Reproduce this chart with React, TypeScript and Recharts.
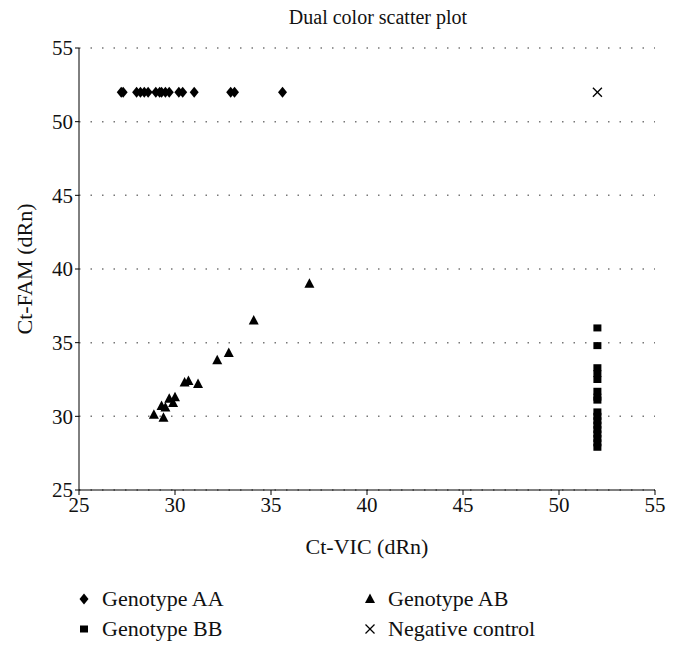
import React from "react";
import {
  CartesianGrid,
  Legend,
  Scatter,
  ScatterChart,
  XAxis,
  YAxis,
} from "recharts";

const FONT = "'Liberation Serif', 'DejaVu Serif', serif";

// Ct-VIC (x) and Ct-FAM (y) values for each genotype
const aaVic = [27.2, 27.3, 28.0, 28.2, 28.4, 28.6, 29.0, 29.2, 29.3, 29.5, 29.7, 30.2, 30.4, 31.0, 32.9, 33.1, 35.6];
const aaFam = [52, 52, 52, 52, 52, 52, 52, 52, 52, 52, 52, 52, 52, 52, 52, 52, 52];

const abVic = [37.0, 34.1, 32.8, 32.2, 30.7, 30.5, 31.2, 30.0, 29.7, 29.9, 29.3, 29.5, 28.9, 29.4];
const abFam = [39.0, 36.5, 34.3, 33.8, 32.4, 32.3, 32.2, 31.3, 31.2, 30.9, 30.7, 30.6, 30.1, 29.9];

const bbVic = [52, 52, 52, 52, 52, 52, 52, 52, 52, 52, 52, 52, 52, 52, 52, 52, 52];
const bbFam = [36.0, 34.8, 33.3, 32.9, 32.5, 31.7, 31.3, 31.1, 30.3, 30.0, 29.7, 29.4, 29.1, 28.8, 28.5, 28.2, 27.9];

const negVic = [52];
const negFam = [52];

const ticks = [25, 30, 35, 40, 45, 50, 55];

const toPoints = (xs: number[], ys: number[]) =>
  xs.map((x, i) => ({ x, y: ys[i] }));

const Diamond = ({ cx, cy }: any) => (
  <polygon
    points={`${cx},${cy - 5.5} ${cx + 4.5},${cy} ${cx},${cy + 5.5} ${cx - 4.5},${cy}`}
    fill="#000"
  />
);

const Triangle = ({ cx, cy }: any) => (
  <polygon
    points={`${cx},${cy - 5.5} ${cx + 5},${cy + 4} ${cx - 5},${cy + 4}`}
    fill="#000"
  />
);

const Square = ({ cx, cy }: any) => (
  <rect x={cx - 4} y={cy - 3.5} width={8} height={7} fill="#000" />
);

const Cross = ({ cx, cy }: any) => (
  <g stroke="#000" strokeWidth={1.3}>
    <line x1={cx - 4.5} y1={cy - 4.5} x2={cx + 4.5} y2={cy + 4.5} />
    <line x1={cx - 4.5} y1={cy + 4.5} x2={cx + 4.5} y2={cy - 4.5} />
  </g>
);

const legendItems = [
  { name: "Genotype AA", Shape: Diamond },
  { name: "Genotype AB", Shape: Triangle },
  { name: "Genotype BB", Shape: Square },
  { name: "Negative control", Shape: Cross },
];

const renderLegend = () => (
  <div
    style={{
      display: "grid",
      gridTemplateColumns: "286px 270px",
      rowGap: 4,
      fontFamily: FONT,
      fontSize: 22,
      color: "#111",
    }}
  >
    {legendItems.map(({ name, Shape }) => (
      <div key={name} style={{ display: "flex", alignItems: "center" }}>
        <svg width={12} height={12} style={{ marginRight: 12 }}>
          <Shape cx={6} cy={6} />
        </svg>
        <span>{name}</span>
      </div>
    ))}
  </div>
);

export default function App() {
  return (
    <div
      style={{
        position: "absolute",
        left: 0,
        top: 0,
        width: 674,
        height: 650,
        background: "#fff",
      }}
    >
      <div
        style={{
          position: "absolute",
          top: 6,
          left: 0,
          width: 756,
          textAlign: "center",
          fontFamily: FONT,
          fontSize: 20,
          color: "#111",
        }}
      >
        Dual color scatter plot
      </div>
      <ScatterChart
        width={674}
        height={650}
        margin={{ top: 48, right: 19, bottom: 90, left: 0 }}
      >
        <CartesianGrid
          vertical={false}
          stroke="#777"
          strokeDasharray="1.5 10"
          strokeWidth={1.5}
        />
        <XAxis
          type="number"
          dataKey="x"
          domain={[25, 55]}
          ticks={ticks}
          interval={0}
          height={70}
          stroke="#000"
          tickSize={5}
          tick={{ fill: "#111", fontFamily: FONT, fontSize: 21 }}
          label={{
            value: "Ct-VIC (dRn)",
            position: "insideBottom",
            offset: 6,
            style: { fill: "#111", fontFamily: FONT, fontSize: 22 },
          }}
        />
        <YAxis
          type="number"
          dataKey="y"
          domain={[25, 55]}
          ticks={ticks}
          interval={0}
          width={79}
          stroke="#000"
          tickSize={4}
          tick={{ fill: "#111", fontFamily: FONT, fontSize: 21 }}
          label={{
            value: "Ct-FAM (dRn)",
            angle: -90,
            position: "insideLeft",
            offset: 24,
            style: {
              fill: "#111",
              fontFamily: FONT,
              fontSize: 22,
              textAnchor: "middle",
            },
          }}
        />
        <Legend
          layout="horizontal"
          verticalAlign="middle"
          content={renderLegend}
          wrapperStyle={{ top: 586, left: 78, width: 570 }}
        />
        <Scatter
          name="Genotype AA"
          data={toPoints(aaVic, aaFam)}
          shape={Diamond}
          isAnimationActive={false}
        />
        <Scatter
          name="Genotype AB"
          data={toPoints(abVic, abFam)}
          shape={Triangle}
          isAnimationActive={false}
        />
        <Scatter
          name="Genotype BB"
          data={toPoints(bbVic, bbFam)}
          shape={Square}
          isAnimationActive={false}
        />
        <Scatter
          name="Negative control"
          data={toPoints(negVic, negFam)}
          shape={Cross}
          isAnimationActive={false}
        />
      </ScatterChart>
    </div>
  );
}
